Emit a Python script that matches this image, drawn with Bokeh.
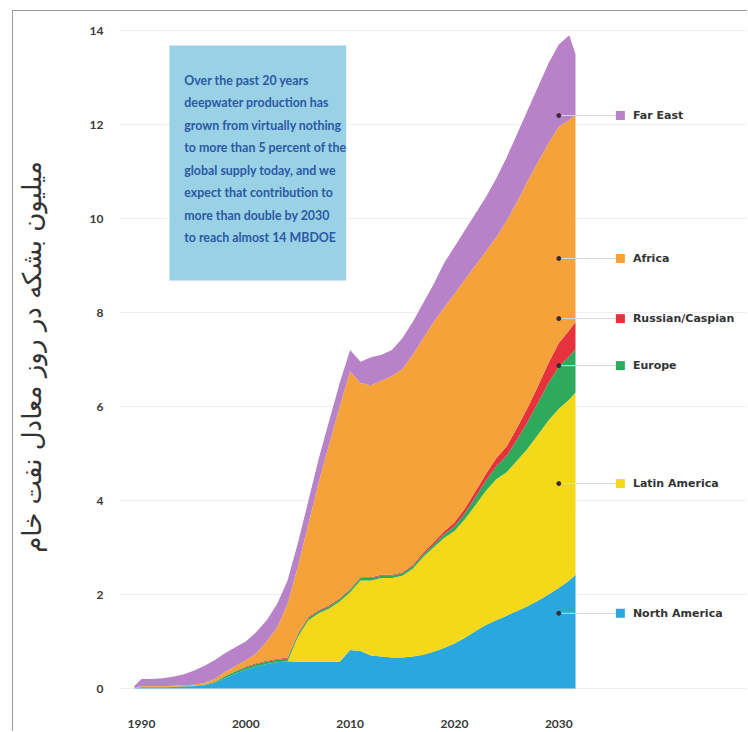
from bokeh.plotting import figure
from bokeh.models import ColumnDataSource, FixedTicker
from bokeh.core.properties import value
from bokeh.embed import file_html
from bokeh.resources import INLINE

# ---------------- data ----------------
years = [1989.3] + list(range(1990, 2032)) + [2031.6]

north_america = [0.0, 0.02, 0.02, 0.02, 0.03, 0.04, 0.05, 0.07, 0.12, 0.22, 0.32, 0.40, 0.47, 0.52, 0.56,
                 0.58, 0.57, 0.57, 0.57, 0.57, 0.57, 0.82, 0.80, 0.70, 0.68, 0.66, 0.66, 0.68, 0.72, 0.78,
                 0.86, 0.96, 1.08, 1.22, 1.35, 1.45, 1.55, 1.65, 1.75, 1.87, 2.00, 2.14, 2.30, 2.42]
latin_america = [0, 0, 0, 0, 0, 0, 0, 0, 0, 0, 0, 0, 0, 0, 0, 0,
                 0.53, 0.88, 1.03, 1.13, 1.28, 1.23, 1.50, 1.60, 1.67, 1.69, 1.74, 1.87, 2.08, 2.22,
                 2.34, 2.39, 2.52, 2.68, 2.85, 3.00, 3.05, 3.20, 3.35, 3.53, 3.70, 3.81, 3.85, 3.88]
europe = [0, 0.01, 0.01, 0.01, 0.01, 0.01, 0.01, 0.01, 0.02, 0.04, 0.05, 0.05, 0.05, 0.05, 0.05, 0.06,
          0.05, 0.05, 0.05, 0.05, 0.05, 0.05, 0.05, 0.05, 0.05, 0.05, 0.05, 0.05, 0.05,
          0.06, 0.08, 0.10, 0.13, 0.17, 0.22, 0.28, 0.35, 0.45, 0.57, 0.68, 0.80, 0.90, 0.92, 0.92]
russia_caspian = [0, 0, 0, 0, 0, 0, 0, 0, 0, 0, 0,
                  0.02, 0.02, 0.02, 0.02, 0.02, 0.02, 0.02, 0.02, 0.02, 0.02, 0.02, 0.02, 0.02, 0.02, 0.02, 0.02,
                  0.03, 0.04, 0.05, 0.06, 0.08, 0.10, 0.12, 0.14, 0.17, 0.20, 0.25, 0.30, 0.35, 0.42, 0.50, 0.55, 0.58]
africa = [0.02, 0.02, 0.02, 0.02, 0.02, 0.02, 0.02, 0.04, 0.06, 0.09, 0.11, 0.13, 0.21, 0.41, 0.67,
          1.14, 1.43, 1.98, 2.73, 3.43, 4.08, 4.63, 4.13, 4.08, 4.13, 4.23, 4.33, 4.47, 4.56, 4.69,
          4.76, 4.87, 4.87, 4.81, 4.74, 4.70, 4.80, 4.80, 4.83, 4.77, 4.68, 4.60, 4.48, 4.40]
far_east = [0.03, 0.15, 0.15, 0.17, 0.19, 0.23, 0.30, 0.36, 0.40, 0.40, 0.40, 0.40, 0.45, 0.45, 0.50,
            0.50, 0.50, 0.50, 0.50, 0.50, 0.50, 0.45, 0.45, 0.60, 0.55, 0.55, 0.65, 0.70, 0.75, 0.80,
            0.95, 1.00, 1.05, 1.10, 1.15, 1.25, 1.35, 1.45, 1.50, 1.60, 1.70, 1.75, 1.80, 1.30]

series_keys = ["north_america", "latin_america", "europe", "russia_caspian", "africa", "far_east"]
series_names = ["North America", "Latin America", "Europe", "Russian/Caspian", "Africa", "Far East"]
series_colors = ["#2aa7dd", "#f6d81a", "#2eaa5c", "#e6323d", "#f6a23a", "#b782c8"]
label_values = [1.6, 4.36, 6.87, 7.87, 9.15, 12.19]   # where each region's callout sits

y_ticks = [0, 2, 4, 6, 8, 10, 12, 14]
x_ticks = [1990, 2000, 2010, 2020, 2030]

note_lines = ["Over the past 20 years",
              "deepwater production has",
              "grown from virtually nothing",
              "to more than 5 percent of the",
              "global supply today, and we",
              "expect that contribution to",
              "more than double by 2030",
              "to reach almost 14 MBDOE"]

y_title = "میلیون بشکه در روز معادل نفت خام"

# ---------------- figure ----------------
src = ColumnDataSource(dict(years=years, north_america=north_america, latin_america=latin_america,
                            europe=europe, russia_caspian=russia_caspian, africa=africa, far_east=far_east))

p = figure(width=735, height=721, output_backend="svg", toolbar_location=None,
           x_range=(1987.895, 2048.18), y_range=(-0.191, 14.298),
           min_border_left=105, min_border_right=0, min_border_top=5, min_border_bottom=35)
p.styles = {"margin-left": "12px", "margin-top": "10px",
            "border-left": "1px solid #9a9a9a", "border-top": "1px solid #9a9a9a"}
p.outline_line_color = None
p.background_fill_color = "white"
p.border_fill_color = "white"

p.varea_stack(stackers=series_keys, x="years", color=series_colors, source=src)

# grid
p.xgrid.visible = False
p.ygrid.grid_line_color = "#eeeeee"
p.ygrid.grid_line_width = 1
p.ygrid.bounds = (1988.5, 2032)
p.ygrid.ticker = FixedTicker(ticks=y_ticks)

# axes
for ax in (p.xaxis[0], p.yaxis[0]):
    ax.axis_line_color = None
    ax.major_tick_line_color = None
    ax.minor_tick_line_color = None
    ax.major_label_text_font = "Lato"
    ax.major_label_text_font_style = "bold"
    ax.major_label_text_font_size = "12px"
    ax.major_label_text_color = "#3a3a3a"
p.xaxis.ticker = FixedTicker(ticks=x_ticks)
p.yaxis.ticker = FixedTicker(ticks=y_ticks)
p.xaxis.major_label_standoff = 16
p.yaxis.major_label_standoff = 10
p.yaxis.axis_label = y_title
p.yaxis.axis_label_text_font = "DejaVu Sans"
p.yaxis.axis_label_text_font_size = "26px"
p.yaxis.axis_label_text_font_style = "normal"
p.yaxis.axis_label_text_color = "#333333"
p.yaxis.axis_label_standoff = 40

# note box
box_left, box_right, box_top, box_bottom = 1992.68, 2009.62, 13.68, 8.68
p.quad(left=[box_left], right=[box_right], top=[box_top], bottom=[box_bottom],
       fill_color="#98d2e4", line_color=None)
line_step = 22.5 / 47.0
note_y = [12.94 - i * line_step for i in range(len(note_lines))]
p.text(x=[box_left + 1.42] * len(note_lines), y=note_y, text=note_lines,
       text_font=value("Lato"), text_font_style="bold", text_font_size="12.4px",
       text_color="#2c58a6", text_baseline="middle", text_align="left")

# callouts: dot on the region, faint leader, square swatch, label
dot_x = 2030
sw_x = 2035.9
txt_x = 2037.1
p.segment(x0=[dot_x] * 6, y0=label_values, x1=[sw_x - 0.4] * 6, y1=label_values,
          line_color="#d8d8d8", line_width=1)
p.scatter(x=[dot_x] * 6, y=label_values, size=4, color="#3b2a35", marker="circle")
p.scatter(x=[sw_x] * 6, y=label_values, size=9, marker="square", color=series_colors, line_color=None)
p.text(x=[txt_x] * 6, y=label_values, text=series_names,
       text_font=value("DejaVu Sans"), text_font_style="bold", text_font_size="11px",
       text_color="#333333", text_baseline="middle", text_align="left")

open("out.html", "w").write(file_html(p, INLINE))
